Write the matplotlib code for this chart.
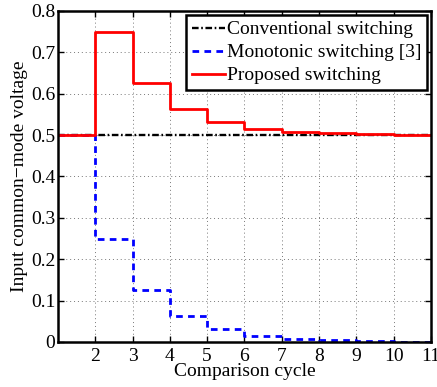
import matplotlib
matplotlib.use("Agg")
import matplotlib.pyplot as plt

cycles = [1, 2, 3, 4, 5, 6, 7, 8, 9, 10, 11]
conventional = [0.5, 0.5, 0.5, 0.5, 0.5, 0.5, 0.5, 0.5, 0.5, 0.5, 0.5]
monotonic = [0.5, 0.25, 0.125, 0.0625, 0.03125, 0.015625, 0.0078125, 0.00390625, 0.001953125, 0.0009765625, 0.0009765625]
proposed = [0.5, 0.75, 0.625, 0.5625, 0.53125, 0.515625, 0.5078125, 0.50390625, 0.501953125, 0.5009765625, 0.5009765625]
xticks = [2, 3, 4, 5, 6, 7, 8, 9, 10, 11]
yticks = [0, 0.1, 0.2, 0.3, 0.4, 0.5, 0.6, 0.7, 0.8]
ytick_labels = ["0", "0.1", "0.2", "0.3", "0.4", "0.5", "0.6", "0.7", "0.8"]

plt.rcParams['font.family'] = ['Liberation Serif', 'DejaVu Serif']

fig = plt.figure(figsize=(4.37, 3.87), dpi=100)
ax = fig.add_axes([0.1327, 0.1163, 0.8533, 0.8553])

ax.step(cycles, conventional, where='post', color='black', lw=1.7,
        dashes=[2.8, 1.1, 0.7, 1.1], label='Conventional switching')
ax.step(cycles, monotonic, where='post', color='blue', lw=2.0,
        dashes=[2.4, 1.9], label='Monotonic switching [3]')
ax.step(cycles, proposed, where='post', color='red', lw=2.0,
        label='Proposed switching')

ax.set_xlim(1, 11)
ax.set_ylim(0, 0.8)
ax.set_xticks(xticks)
ax.set_yticks(yticks)
ax.set_yticklabels(ytick_labels)
ax.tick_params(axis='both', direction='in', top=True, right=True, labelsize=14, length=4, width=1)
ax.tick_params(axis='y', pad=2)
ax.tick_params(axis='x', pad=4)
ax.grid(True, linestyle=(0, (1, 3)), color='#777777', lw=0.7)
for s in ax.spines.values():
    s.set_linewidth(1.8)

ax.set_xlabel('Comparison cycle', fontsize=14, labelpad=-1)
ax.set_ylabel('Input common\u2212mode voltage', fontsize=14, labelpad=2)

leg = ax.legend(loc='upper right', fontsize=14, frameon=True, fancybox=False,
                edgecolor='black', framealpha=1, borderpad=0.3, labelspacing=0.28,
                handlelength=1.7, handletextpad=0.1, borderaxespad=0.2)
leg.get_frame().set_linewidth(1.8)

fig.savefig('out.png', dpi=100)
